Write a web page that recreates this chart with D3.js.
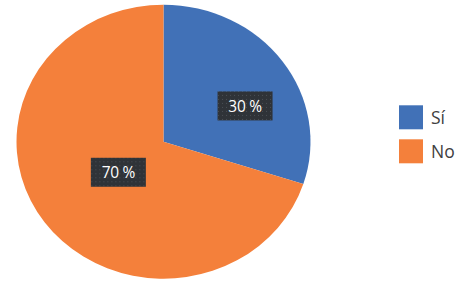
<!DOCTYPE html>
<meta charset="utf-8">
<style>
body { margin: 0; background: #fff; }
.label text { font: 15.5px "Open Sans", sans-serif; fill: #fff; letter-spacing: -0.3px; }
.legend text { font: 17.5px "Open Sans", sans-serif; fill: #404040; }
</style>
<svg width="463" height="287"></svg>
<script src="https://cdn.jsdelivr.net/npm/d3@7"></script>
<script>

var categories = ["Sí", "No"],
    values = [30, 70],
    colors = ["#4171b7", "#f4803b"];

var svg = d3.select("svg"),
    cx = 163.5, cy = 141.7,
    ry = 137, rx = 147;

// dotted fill used behind the data labels
var pat = svg.append("defs").append("pattern")
    .attr("id", "dots")
    .attr("width", 4).attr("height", 4)
    .attr("patternUnits", "userSpaceOnUse");
pat.append("rect").attr("width", 4).attr("height", 4).attr("fill", "#2f3338");
pat.append("rect").attr("x", 1).attr("y", 1).attr("width", 1).attr("height", 1).attr("fill", "#4a4f55");

var pie = d3.pie().sort(null).value(function(d) { return d; });
var arcs = pie(values);

var arc = d3.arc().innerRadius(0).outerRadius(ry);

// chart is slightly stretched horizontally
var g = svg.append("g")
    .attr("transform", "translate(" + cx + "," + cy + ") scale(" + (rx / ry) + ",1)");

g.selectAll("path")
    .data(arcs)
  .enter().append("path")
    .attr("d", arc)
    .attr("fill", function(d, i) { return colors[i]; });

// label anchor: small slices get pushed outward and toward the end of the slice
function labelPos(d) {
  var span = d.endAngle - d.startAngle,
      frac = span < Math.PI ? 0.6 : 0.5,
      r = span < Math.PI ? 84 : 52,
      a = d.startAngle + span * frac;
  return [Math.sin(a) * r * rx / ry + cx, -Math.cos(a) * r + cy];
}

var lab = svg.selectAll(".label")
    .data(arcs)
  .enter().append("g")
    .attr("class", "label")
    .attr("transform", function(d) { var p = labelPos(d); return "translate(" + p[0] + "," + p[1] + ")"; });

lab.append("rect")
    .attr("x", -27.5).attr("y", -14.5)
    .attr("width", 55).attr("height", 29)
    .attr("fill", "url(#dots)");

lab.append("text")
    .attr("text-anchor", "middle")
    .attr("dy", "0.36em")
    .text(function(d) { return d.data + " %"; });

var leg = svg.selectAll(".legend")
    .data(categories)
  .enter().append("g")
    .attr("class", "legend")
    .attr("transform", function(d, i) { return "translate(399," + (105.3 + i * 34) + ")"; });

leg.append("rect")
    .attr("width", 24).attr("height", 24)
    .attr("fill", function(d, i) { return colors[i]; });

leg.append("text")
    .attr("x", 32).attr("y", 12)
    .attr("dy", "0.36em")
    .text(function(d) { return d; });

</script>
